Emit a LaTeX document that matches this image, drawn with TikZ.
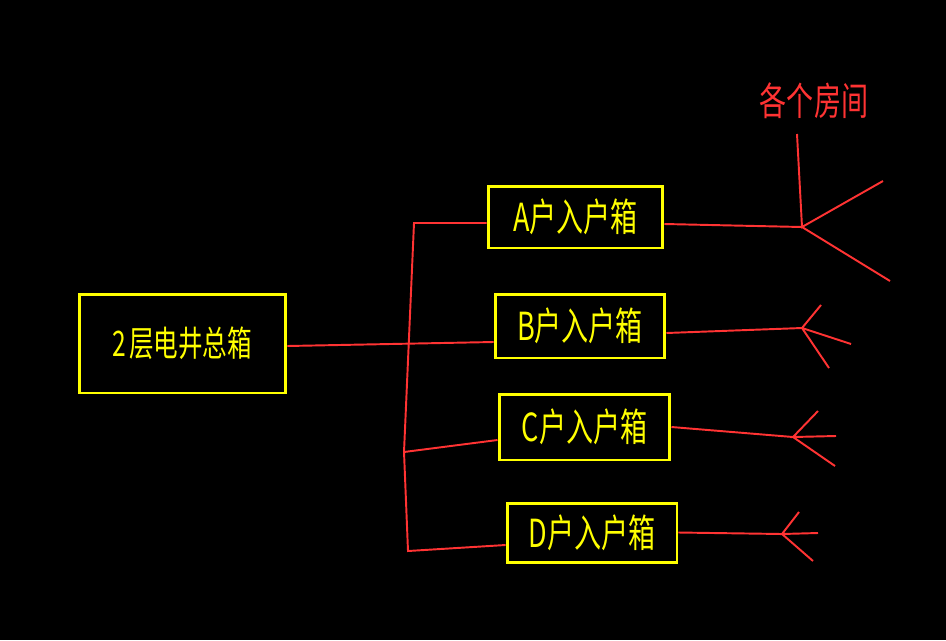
\documentclass[tikz,border=0pt]{standalone}
\usepackage{fontspec}
\usepackage{graphicx}
\usepackage{xcolor}
\newfontfamily\cjk{Noto Sans CJK SC}

\definecolor{cadyellow}{RGB}{255,255,0}
\definecolor{cadred}{RGB}{255,51,51}
% narrow CAD-like lettering
\newcommand{\cadtext}[2]{{\cjk\fontsize{#1}{#1}\selectfont\scalebox{0.7}[1]{#2}}}

\tikzset{
    box/.style={draw=cadyellow, line width=1.7pt, text=cadyellow, inner sep=0pt},
    wire/.style={draw=cadred, line width=1.1pt},
}

\begin{document}
\begin{tikzpicture}[x=0.02cm, y=-0.02cm]
    % black sheet
    \fill[black] (0,0) rectangle (946,640);

    % main box of the floor
    \node[box, minimum width=4.14cm, minimum height=1.98cm] (main) at (182.5,343.5) {\raisebox{-0.06cm}{\cadtext{20}{2\hspace{0.1em}层电井总箱}}};

    % one box per household
    \foreach \n/\x/\y/\w/\h in {A/575.5/217/3.5/1.24, B/580/326/3.4/1.28, C/584.5/427/3.42/1.32, D/592/532.5/3.4/1.18} {
        \node[box, minimum width=\w cm, minimum height=\h cm] (\n) at (\x,\y) {\cadtext{22}{\n{}户入户箱}};
    }

    % trunk on the left
    \coordinate (top) at (414,223);
    \coordinate (mid) at (404,452);
    \coordinate (bot) at (408,551);
    \draw[wire] (top -| A.west) -- (top) -- (mid) -- (bot) -- ([yshift=-0.25cm]D.west);
    \draw[wire] (mid) -- ([yshift=-0.26cm]C.west);
    \draw[wire] ([yshift=-0.05cm]main.east) -- ([yshift=-0.32cm]B.west);

    % fans to the rooms
    \foreach \f/\cx/\cy/\ax/\ay/\bx/\by/\ex/\ey in {fa/802/227/797/134/883/181/890/281, fb/802/328/821/305/851/344/829/368, fc/793/437/818/411/836/436/835/466, fd/782/534/799/512/818/533/813/561} {
        \coordinate (\f) at (\cx,\cy);
        \coordinate (\f1) at (\ax,\ay);
        \coordinate (\f2) at (\bx,\by);
        \coordinate (\f3) at (\ex,\ey);
        \draw[wire] (\f1) -- (\f) -- (\f2);
        \draw[wire] (\f) -- (\f3);
    }
    \draw[wire] ([yshift=-0.14cm]A.east) -- (fa);
    \draw[wire] ([yshift=-0.14cm]B.east) -- (fb);
    \draw[wire] (C.east) -- (fc);
    \draw[wire] (D.east) -- (fd);

    % label above the top fan
    \node[text=cadred] (rooms) at (814,101) {\cadtext{22}{各个房间}};
\end{tikzpicture}
\end{document}
